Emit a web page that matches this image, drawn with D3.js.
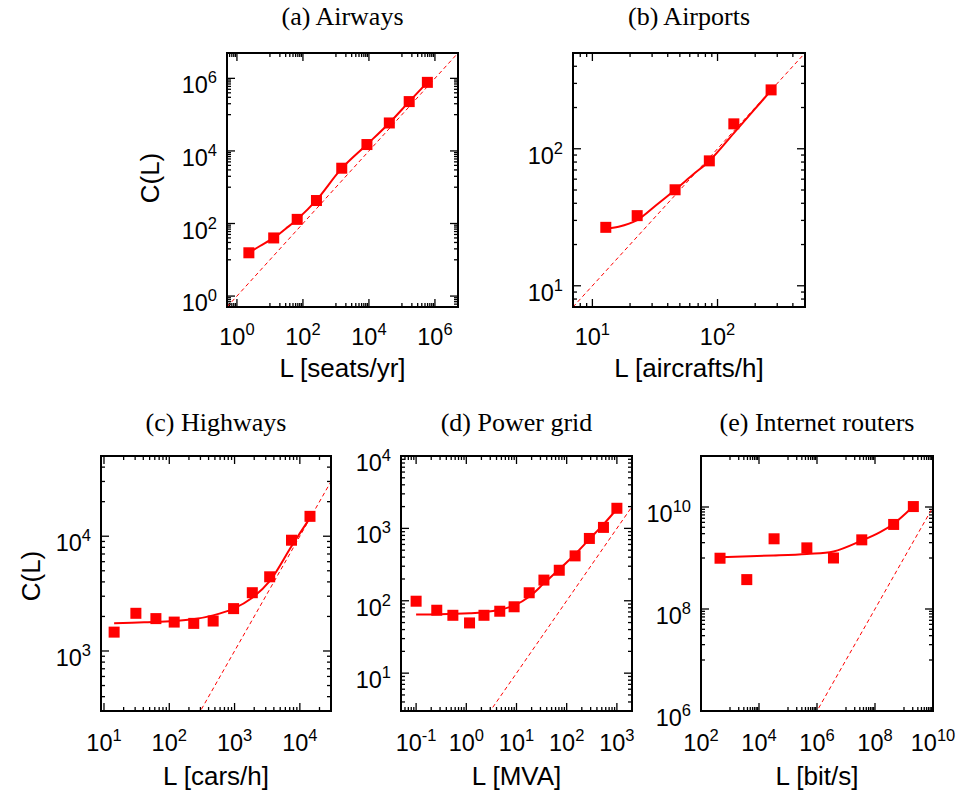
<!DOCTYPE html>
<html><head><meta charset="utf-8">
<script src="https://cdn.jsdelivr.net/npm/d3@7"></script>
<style>body{margin:0;background:#fff}</style>
</head><body>
<svg id="chart" width="959" height="792"></svg>
<script>
// ---------- data ----------
// (a) Airways
const airwaysL = [2.3, 13, 67, 257, 1500, 8700, 41500, 166000, 590000];
const airwaysC = [15.6, 40, 130, 430, 3340, 15000, 59000, 229000, 776000];
const airwaysFitL = [2.3, 5, 13, 30, 67, 257, 1500, 8700, 41500, 166000, 590000];
const airwaysFitC = [15.6, 24, 40, 72, 130, 440, 3300, 15000, 59000, 229000, 776000];
// (b) Airports
const airportsL = [12.8, 22.8, 45.8, 86, 135, 268];
const airportsC = [26.7, 32.5, 50.2, 81.6, 152, 269];
const airportsFitL = [12.8, 16.2, 22.8, 32.1, 45.9, 63.8, 86.1, 135, 196, 268];
const airportsFitC = [26.2, 27.0, 30.2, 38.5, 50.2, 64.9, 81.5, 130, 192, 267];
// (c) Highways
const highwaysL = [14.3, 30.8, 62.4, 119, 237, 470, 967, 1870, 3450, 7450, 14300];
const highwaysC = [1460, 2130, 1915, 1786, 1740, 1824, 2340, 3220, 4430, 9230, 14900];
const highwaysFitL = [14.3, 41.2, 119, 243, 470, 967, 1870, 3450, 7450, 14300];
const highwaysFitC = [1742, 1780, 1824, 1897, 2044, 2340, 2912, 4066, 8185, 14460];
// (d) Power grid
const powerL = [0.1, 0.258, 0.54, 1.16, 2.25, 4.64, 8.96, 17.9, 35.2, 71.1, 147, 283, 540, 1000];
const powerC = [98.6, 74, 63, 49.4, 63, 71.7, 82.6, 129, 193, 264, 417, 726, 1032, 1896];
const powerFitL = [0.1, 0.292, 1.16, 2.25, 4.64, 8.96, 17.9, 35.2, 71.1, 147, 283, 540, 1000];
const powerFitC = [64.6, 65.1, 67.3, 69.5, 75, 86, 113.6, 174, 272, 440, 710, 1136, 1854];
// (e) Internet routers
const routersL = [453, 3790, 33100, 447000, 3.7e6, 3.5e7, 4.4e8, 2.1e9];
const routersC = [9.9e8, 3.77e8, 2.38e9, 1.58e9, 1.0e9, 2.27e9, 4.55e9, 1.02e10];
const routersFitL = [453, 31400, 447000, 3.7e6, 3.5e7, 1.5e8, 4.4e8, 2.1e9];
const routersFitC = [1.04e9, 1.12e9, 1.2e9, 1.34e9, 2.2e9, 3.22e9, 4.7e9, 1.03e10];

// tick label exponents
const aXTicks = [0, 2, 4, 6], aYTicks = [0, 2, 4, 6];
const bXTicks = [1, 2], bYTicks = [1, 2];
const cXTicks = [1, 2, 3, 4], cYTicks = [3, 4];
const dXTicks = [-1, 0, 1, 2, 3], dYTicks = [1, 2, 3, 4];
const eXTicks = [2, 4, 6, 8, 10], eYTicks = [6, 8, 10];

const titles = ["(a) Airways", "(b) Airports", "(c) Highways", "(d) Power grid", "(e) Internet routers"];
const xTitles = ["L [seats/yr]", "L [aircrafts/h]", "L [cars/h]", "L [MVA]", "L [bit/s]"];

// ---------- layout ----------
const panels = [
  {L: airwaysL, C: airwaysC, fL: airwaysFitL, fC: airwaysFitC, xd: [0.5, 5e6], yd: [0.5, 5e6],
   xt: aXTicks, yt: aYTicks, xb: 100, yb: 100, box: [227, 458, 53, 307], ylab: true, row: 0},
  {L: airportsL, C: airportsC, fL: airportsFitL, fC: airportsFitC, xd: [7, 500], yd: [7, 500],
   xt: bXTicks, yt: bYTicks, xb: 10, yb: 10, box: [573, 805, 53, 307], ylab: false, row: 0},
  {L: highwaysL, C: highwaysC, fL: highwaysFitL, fC: highwaysFitC, xd: [9, 3e4], yd: [300, 5e4],
   xt: cXTicks, yt: cYTicks, xb: 10, yb: 10, box: [101, 331, 456, 711], ylab: true, row: 1},
  {L: powerL, C: powerC, fL: powerFitL, fC: powerFitC, xd: [0.05, 2000], yd: [3, 1e4],
   xt: dXTicks, yt: dYTicks, xb: 10, yb: 10, box: [401, 632, 456, 711], ylab: false, row: 1},
  {L: routersL, C: routersC, fL: routersFitL, fC: routersFitC, xd: [1e2, 1e10], yd: [1e6, 1e11],
   xt: eXTicks, yt: eYTicks, xb: 100, yb: 100, box: [701, 933, 456, 711], ylab: false, row: 1}
];

const RED = "#ff0000";
const svg = d3.select("#chart");
svg.append("rect").attr("width", 959).attr("height", 792).attr("fill", "#fff");

function tickSets(domain, base) {
  const lo = Math.floor(Math.log10(domain[0])) - 1, hi = Math.ceil(Math.log10(domain[1])) + 1;
  const major = [], minor = [];
  const inD = v => v >= domain[0] * 0.9999 && v <= domain[1] * 1.0001;
  if (base === 10) {
    for (let e = lo; e <= hi; e++) {
      const p = Math.pow(10, e);
      if (inD(p)) major.push(p);
      for (let k = 2; k <= 9; k++) if (inD(k * p)) minor.push(k * p);
    }
  } else {
    for (let e = lo; e <= hi; e++) {
      const p = Math.pow(10, e);
      if (e % 2 === 0) { if (inD(p)) major.push(p); }
      else { for (let k = 1; k <= 9; k++) if (inD(k * p)) minor.push(k * p); }
    }
  }
  return {major, minor};
}

function powLabel(sel, e) {
  sel.append("tspan").text("10");
  sel.append("tspan").attr("dy", -10).attr("font-size", 16.5).text(String(e));
}

panels.forEach((p, i) => {
  const [x0, x1, y0, y1] = p.box;
  const x = d3.scaleLog().domain(p.xd).range([x0, x1]);
  const y = d3.scaleLog().domain(p.yd).range([y1, y0]);
  const g = svg.append("g");
  const clipId = "clip" + i;
  g.append("clipPath").attr("id", clipId).append("rect")
    .attr("x", x0).attr("y", y0).attr("width", x1 - x0).attr("height", y1 - y0);

  // ticks (inside, mirrored)
  const xt = tickSets(p.xd, p.xb), yt = tickSets(p.yd, p.yb);
  const tk = g.append("g").attr("stroke", "#000").attr("stroke-width", 1.3);
  const drawX = (vals, len) => vals.forEach(v => {
    const px = x(v);
    tk.append("line").attr("x1", px).attr("x2", px).attr("y1", y1).attr("y2", y1 - len);
    tk.append("line").attr("x1", px).attr("x2", px).attr("y1", y0).attr("y2", y0 + len);
  });
  const drawY = (vals, len) => vals.forEach(v => {
    const py = y(v);
    tk.append("line").attr("y1", py).attr("y2", py).attr("x1", x0).attr("x2", x0 + len);
    tk.append("line").attr("y1", py).attr("y2", py).attr("x1", x1).attr("x2", x1 - len);
  });
  drawX(xt.major, 8); drawX(xt.minor, 4);
  drawY(yt.major, 8); drawY(yt.minor, 4);

  // diagonal C = L reference
  const dmin = Math.min(p.xd[0], p.yd[0]), dmax = Math.max(p.xd[1], p.yd[1]);
  g.append("g").attr("clip-path", `url(#${clipId})`).append("line")
    .attr("x1", x(dmin)).attr("y1", y(dmin)).attr("x2", x(dmax)).attr("y2", y(dmax))
    .attr("stroke", RED).attr("stroke-width", 1).attr("stroke-dasharray", "4,3");

  // fit curve
  const fit = p.fL.map((v, j) => [v, p.fC[j]]);
  const line = d3.line().x(d => x(d[0])).y(d => y(d[1])).curve(d3.curveCatmullRom.alpha(0.5));
  g.append("path").attr("clip-path", `url(#${clipId})`).attr("d", line(fit))
    .attr("fill", "none").attr("stroke", RED).attr("stroke-width", 2);

  // squares
  const s = 11;
  g.selectAll("rect.pt").data(p.L.map((v, j) => [v, p.C[j]])).join("rect")
    .attr("class", "pt").attr("x", d => x(d[0]) - s / 2).attr("y", d => y(d[1]) - s / 2)
    .attr("width", s).attr("height", s).attr("fill", RED);

  // frame
  g.append("rect").attr("x", x0).attr("y", y0).attr("width", x1 - x0).attr("height", y1 - y0)
    .attr("fill", "none").attr("stroke", "#000").attr("stroke-width", 2);

  // tick labels
  const font = "'Liberation Sans', Arial, sans-serif";
  const xlabY = p.row === 0 ? 345 : 751;
  p.xt.forEach(e => {
    const t = g.append("text").attr("x", x(Math.pow(10, e))).attr("y", xlabY)
      .attr("text-anchor", "middle").attr("font-family", font).attr("font-size", 23.5).attr("fill", "#000");
    powLabel(t, e);
  });
  p.yt.forEach(e => {
    const t = g.append("text").attr("x", x0 - 10).attr("y", y(Math.pow(10, e)) + 15)
      .attr("text-anchor", "end").attr("font-family", font).attr("font-size", 23.5).attr("fill", "#000");
    powLabel(t, e);
  });

  // axis titles
  g.append("text").attr("x", (x0 + x1) / 2).attr("y", p.row === 0 ? 377 : 785)
    .attr("text-anchor", "middle").attr("font-family", font).attr("font-size", 26).attr("fill", "#000")
    .text(xTitles[i]);
  if (p.ylab) {
    const cx = p.row === 0 ? 150 : 31, cy = p.row === 0 ? 178 : 576;
    g.append("text").attr("transform", `translate(${cx},${cy}) rotate(-90)`).attr("dy", "0.35em")
      .attr("text-anchor", "middle").attr("font-family", font).attr("font-size", 26).attr("fill", "#000")
      .text("C(L)");
  }
  // panel title
  g.append("text").attr("x", (x0 + x1) / 2).attr("y", p.row === 0 ? 25 : 431)
    .attr("text-anchor", "middle").attr("font-family", "'Liberation Serif', 'Times New Roman', serif")
    .attr("font-size", 26).attr("fill", "#000").text(titles[i]);
});
</script>
</body></html>
